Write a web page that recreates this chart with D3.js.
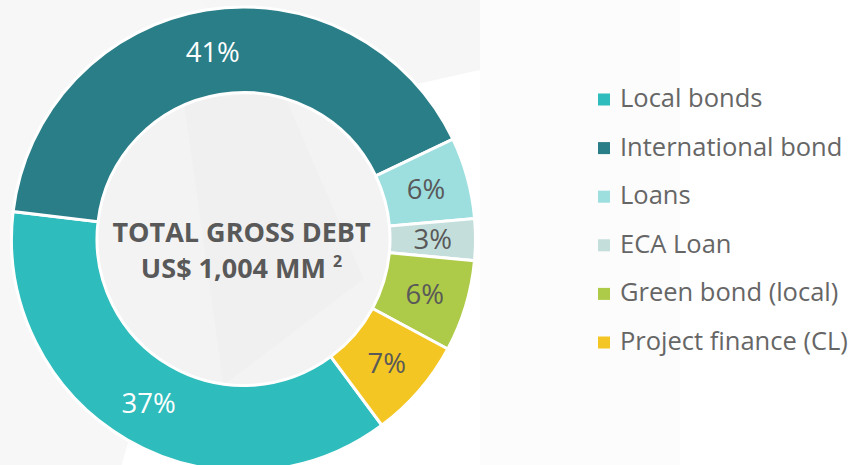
<!DOCTYPE html>
<html>
<head>
<meta charset="utf-8">
<script src="https://cdn.jsdelivr.net/npm/d3@7"></script>
<style>
  html, body { margin: 0; padding: 0; background: #ffffff; }
  svg { display: block; }
</style>
</head>
<body>
<svg id="chart" width="851" height="465"></svg>
<script>
// ---- Data ----
const categories = ["Local bonds", "International bond", "Loans", "ECA Loan", "Green bond (local)", "Project finance (CL)"];
const amountsMM = [372, 412, 57, 29, 64, 70];
const colors = ["#2EBCBC", "#2A7E88", "#9DDEDF", "#C4DEDB", "#ADCA48", "#F3C623"];
const labelColors = ["#ffffff", "#ffffff", "#595959", "#595959", "#595959", "#595959"];
const centerLines = ["TOTAL GROSS DEBT", "US$ 1,004 MM"];
const centerSup = "2";

const svg = d3.select("#chart");
const W = 851, H = 465;
const cx = 243.5, cy = 239, rOuter = 232, rInner = 146.5;

// faint watermark background
const bg = svg.append("g");
bg.append("rect").attr("width", W).attr("height", H).attr("fill", "#ffffff");
bg.append("path").attr("d", "M0,0 L260,0 L120,470 L0,470 Z").attr("fill", "#f7f7f7");
bg.append("path").attr("d", "M200,0 L480,0 L480,70 L300,110 Z").attr("fill", "#f6f6f6");
bg.append("rect").attr("x", 480).attr("y", 0).attr("width", 200).attr("height", H).attr("fill", "#fcfcfc");

const g = svg.append("g").attr("transform", `translate(${cx},${cy})`);

// inner disk
g.append("circle").attr("r", rInner).attr("fill", "#f3f3f3");
g.append("path")
  .attr("d", "M-60,-140 L40,-146 L120,40 L-20,146 Z")
  .attr("fill", "#ededed").attr("opacity", 0.45);

const startDeg = 143.4;
const pie = d3.pie().sort(null).value(d => d)
  .startAngle(startDeg * Math.PI / 180)
  .endAngle((startDeg + 360) * Math.PI / 180);
const arcs = pie(amountsMM);
const arc = d3.arc().innerRadius(rInner).outerRadius(rOuter);
const labelArc = d3.arc().innerRadius((rInner + rOuter) / 2).outerRadius((rInner + rOuter) / 2);
const total = d3.sum(amountsMM);

g.selectAll("path.slice").data(arcs).enter().append("path")
  .attr("class", "slice")
  .attr("d", arc)
  .attr("fill", (d, i) => colors[i])
  .attr("stroke", "#ffffff")
  .attr("stroke-width", 3)
  .attr("stroke-linejoin", "miter");

const fs = 27.5;
g.selectAll("text.pct").data(arcs).enter().append("text")
  .attr("class", "pct")
  .attr("x", d => labelArc.centroid(d)[0])
  .attr("y", d => labelArc.centroid(d)[1] + fs * 0.36)
  .attr("text-anchor", "middle")
  .attr("font-family", "'Open Sans', sans-serif")
  .attr("font-size", fs)
  .attr("fill", (d, i) => labelColors[i])
  .text(d => Math.round(d.value / total * 100) + "%");

// center text
const ct = g.append("g").attr("font-family", "'Open Sans', sans-serif").attr("font-weight", "bold")
  .attr("fill", "#595959").attr("font-size", 27).attr("text-anchor", "middle");
ct.append("text").attr("x", -2).attr("y", 2.5).text(centerLines[0]);
const t2 = ct.append("text").attr("x", -2).attr("y", 39);
t2.append("tspan").text(centerLines[1] + " ");
t2.append("tspan").attr("font-size", 16).attr("dy", -11).text(centerSup);

// legend
const legend = svg.append("g").attr("transform", "translate(598,107)");
const rowH = 48.6;
const items = legend.selectAll("g").data(categories).enter().append("g")
  .attr("transform", (d, i) => `translate(0,${i * rowH})`);
items.append("rect").attr("x", 0).attr("y", -13.5).attr("width", 12).attr("height", 12)
  .attr("fill", (d, i) => colors[i]);
items.append("text").attr("x", 22).attr("y", 0)
  .attr("font-family", "'Open Sans', sans-serif").attr("font-size", 25.5)
  .attr("fill", "#666666").text(d => d);
</script>
</body>
</html>
